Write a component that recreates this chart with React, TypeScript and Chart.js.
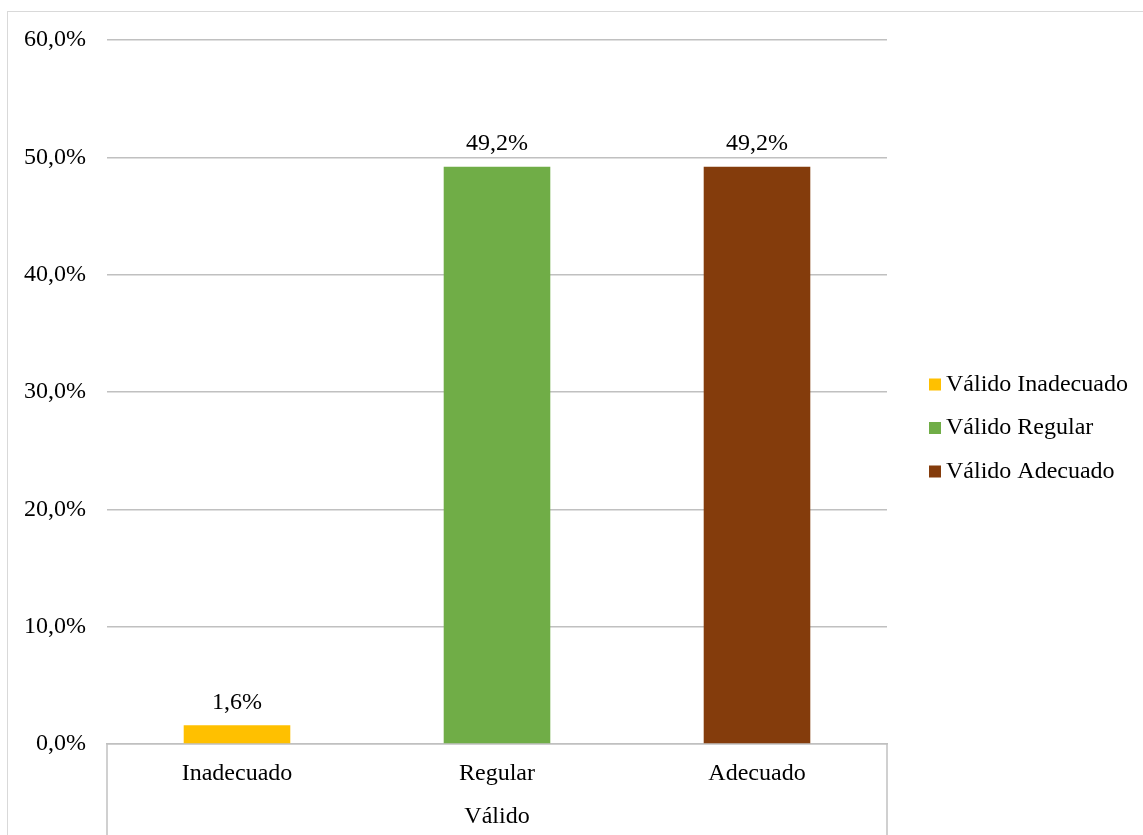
import React, { useEffect, useRef } from "react";
import { Chart, registerables } from "chart.js";

Chart.register(...registerables);

const categories = ["Inadecuado", "Regular", "Adecuado"];
const seriesLabels = ["Válido Inadecuado", "Válido Regular", "Válido Adecuado"];
const seriesValues = [1.6, 49.2, 49.2];
const seriesColors = ["#FFC000", "#70AD47", "#843C0C"];
const groupLabel = "Válido";
const yMin = 0;
const yMax = 60;
const yStep = 10;

const FONT = '"Liberation Serif", "Times New Roman", serif';
const FONT_SIZE = 24;
const GRID = "#c0c0c0";

function fmt(v: number): string {
  return v.toFixed(1).replace(".", ",") + "%";
}

const extrasPlugin = {
  id: "extras",
  beforeDraw(chart: any) {
    const ctx = chart.ctx;
    ctx.save();
    ctx.strokeStyle = "#d9d9d9";
    ctx.lineWidth = 1;
    ctx.strokeRect(7.5, 11.5, 3000, 3000);
    ctx.restore();
  },
  afterDraw(chart: any) {
    const ctx = chart.ctx;
    const area = chart.chartArea;
    ctx.save();
    // vertical separators of the category axis
    ctx.strokeStyle = GRID;
    ctx.lineWidth = 1.5;
    [area.left, area.right].forEach((x: number) => {
      ctx.beginPath();
      ctx.moveTo(x, area.bottom);
      ctx.lineTo(x, chart.height);
      ctx.stroke();
    });
    // data labels
    ctx.font = `${FONT_SIZE}px ${FONT}`;
    ctx.fillStyle = "#000";
    ctx.textAlign = "center";
    ctx.textBaseline = "middle";
    chart.data.datasets.forEach((ds: any, i: number) => {
      const meta = chart.getDatasetMeta(i);
      meta.data.forEach((el: any, j: number) => {
        const v = ds.data[j];
        if (v === null || v === undefined) return;
        ctx.fillText(fmt(v), el.x, el.y - 23);
      });
    });
    // legend
    const lx = area.right + 42;
    const spacing = 43.5;
    const n = chart.data.datasets.length;
    const cy = 428;
    const startY = cy - ((n - 1) * spacing) / 2;
    ctx.textAlign = "left";
    chart.data.datasets.forEach((ds: any, i: number) => {
      const y = startY + i * spacing;
      ctx.fillStyle = ds.backgroundColor;
      ctx.fillRect(lx, y - 6, 12, 12);
      ctx.fillStyle = "#000";
      ctx.fillText(ds.label, lx + 17, y);
    });
    ctx.restore();
  },
};

export default function App() {
  const ref = useRef<HTMLCanvasElement | null>(null);

  useEffect(() => {
    if (!ref.current) return;
    const datasets = seriesLabels.map((label, i) => ({
      label,
      data: categories.map((_, j) => (j === i ? seriesValues[i] : null)),
      backgroundColor: seriesColors[i],
      grouped: false,
      barPercentage: 0.41,
      categoryPercentage: 1,
    }));
    const chart = new Chart(ref.current, {
      type: "bar",
      data: { labels: categories, datasets },
      options: {
        animation: false,
        responsive: false,
        devicePixelRatio: 1,
        layout: { padding: { left: 0, top: 40, right: 256, bottom: 0 } },
        plugins: {
          legend: { display: false },
          tooltip: { enabled: false },
        },
        scales: {
          x: {
            grid: { display: false },
            border: { display: true, color: GRID, width: 1.5 },
            ticks: {
              color: "#000",
              font: { family: FONT, size: FONT_SIZE },
              padding: 7,
            },
            title: {
              display: true,
              text: groupLabel,
              color: "#000",
              font: { family: FONT, size: FONT_SIZE },
              padding: { top: 0, bottom: 4 },
            },
            afterFit(scale: any) {
              scale.height = 91;
            },
          },
          y: {
            min: yMin,
            max: yMax,
            grid: { color: GRID, lineWidth: 1.5, drawTicks: false },
            border: { display: false },
            ticks: {
              stepSize: yStep,
              color: "#000",
              font: { family: FONT, size: FONT_SIZE },
              padding: 21,
              callback: (v: any) => fmt(Number(v)),
            },
            afterFit(scale: any) {
              scale.width = 107;
            },
          },
        },
      },
      plugins: [extrasPlugin],
    });
    return () => chart.destroy();
  }, []);

  return (
    <div style={{ position: "absolute", left: 0, top: 0, width: 1143, height: 835, background: "#fff" }}>
      <canvas ref={ref} width={1143} height={835} />
    </div>
  );
}
